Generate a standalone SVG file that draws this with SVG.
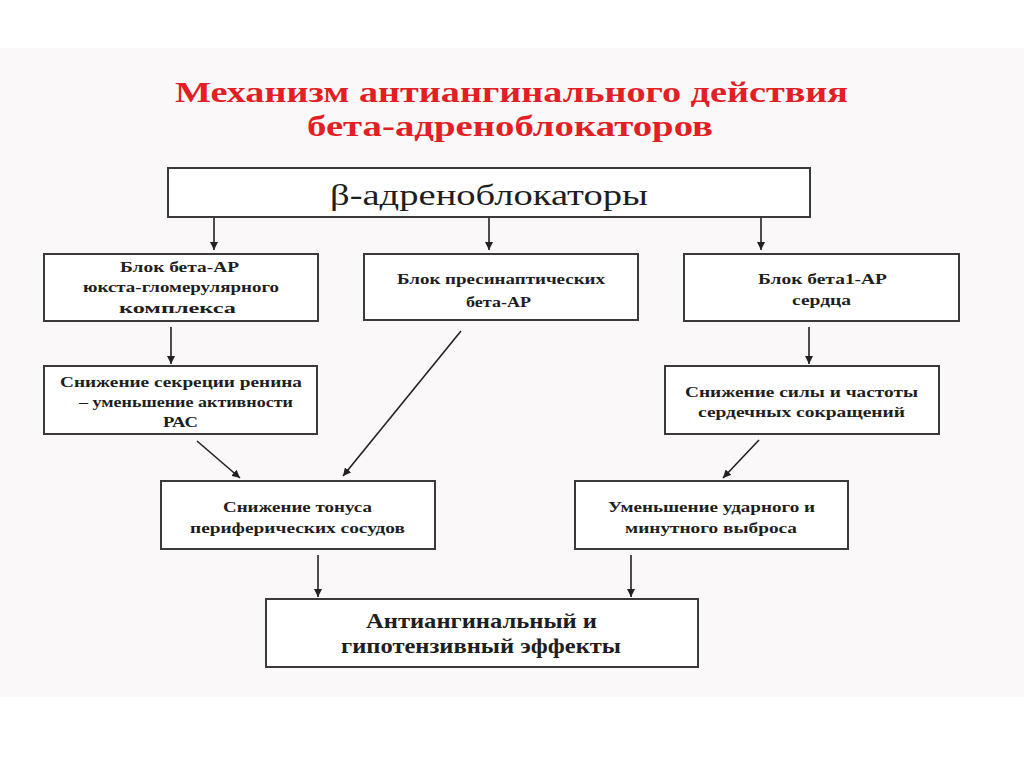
<svg xmlns="http://www.w3.org/2000/svg" width="1024" height="767" viewBox="0 0 1024 767">
  <style>
    .box { fill: #ffffff; stroke: #3a3a3a; stroke-width: 2; }
    .t { font-family: "Liberation Serif", "Times New Roman", serif; font-weight: bold; font-size: 14px; fill: #1e1e1e; text-anchor: middle; }
    .big { font-size: 21px; }
    .title { font-family: "Liberation Serif", "Times New Roman", serif; font-weight: bold; font-size: 29px; fill: #e31e24; text-anchor: middle; }
    .main { font-family: "Liberation Serif", "Times New Roman", serif; font-weight: normal; font-size: 30px; fill: #1e1e1e; text-anchor: middle; }
    .conn line { stroke: #222; stroke-width: 1.6; marker-end: url(#arr); }
  </style>
  <defs>
    <marker id="arr" markerUnits="userSpaceOnUse" markerWidth="9" markerHeight="8" refX="8" refY="4" orient="auto">
      <path d="M0,0 L8,4 L0,8 z" fill="#222"/>
    </marker>
  </defs>
  <rect x="0" y="0" width="1024" height="767" fill="#ffffff"/>
  <rect x="0" y="48" width="1024" height="649" fill="#fbf8fa"/>

  <g id="title">
    <text class="title" x="511.5" y="102" textLength="673" lengthAdjust="spacingAndGlyphs">Механизм антиангинального действия</text>
    <text class="title" x="510" y="136" textLength="406" lengthAdjust="spacingAndGlyphs">бета-адреноблокаторов</text>
  </g>

  <g id="node-top">
    <rect class="box" x="168" y="168" width="642" height="49"/>
    <text class="main" x="489" y="205" textLength="318" lengthAdjust="spacingAndGlyphs">β-адреноблокаторы</text>
  </g>

  <g id="node-a">
    <rect class="box" x="44" y="254" width="274" height="67"/>
    <text class="t" x="179.5" y="272" textLength="119" lengthAdjust="spacingAndGlyphs">Блок бета-АР</text>
    <text class="t" x="181" y="292" textLength="196" lengthAdjust="spacingAndGlyphs">юкста-гломерулярного</text>
    <text class="t" x="177.5" y="313" textLength="117" lengthAdjust="spacingAndGlyphs">комплекса</text>
  </g>

  <g id="node-b">
    <rect class="box" x="364" y="254" width="274" height="66"/>
    <text class="t" x="501" y="284" textLength="208" lengthAdjust="spacingAndGlyphs">Блок пресинаптических</text>
    <text class="t" x="498.5" y="307" textLength="65" lengthAdjust="spacingAndGlyphs">бета-АР</text>
  </g>

  <g id="node-c">
    <rect class="box" x="684" y="254" width="275" height="67"/>
    <text class="t" x="822.5" y="284" textLength="129" lengthAdjust="spacingAndGlyphs">Блок бета1-АР</text>
    <text class="t" x="821.5" y="305" textLength="59" lengthAdjust="spacingAndGlyphs">сердца</text>
  </g>

  <g id="node-d">
    <rect class="box" x="44" y="366" width="273" height="68"/>
    <text class="t" x="181" y="387" textLength="242" lengthAdjust="spacingAndGlyphs">Снижение секреции ренина</text>
    <text class="t" x="186" y="407" textLength="214" lengthAdjust="spacingAndGlyphs">– уменьшение активности</text>
    <text class="t" x="180.5" y="427" textLength="35" lengthAdjust="spacingAndGlyphs">РАС</text>
  </g>

  <g id="node-e">
    <rect class="box" x="665" y="366" width="274" height="68"/>
    <text class="t" x="801.5" y="397" textLength="233" lengthAdjust="spacingAndGlyphs">Снижение силы и частоты</text>
    <text class="t" x="801.5" y="417" textLength="207" lengthAdjust="spacingAndGlyphs">сердечных сокращений</text>
  </g>

  <g id="node-f">
    <rect class="box" x="161" y="481" width="274" height="68"/>
    <text class="t" x="297.5" y="512" textLength="149" lengthAdjust="spacingAndGlyphs">Снижение тонуса</text>
    <text class="t" x="297.5" y="533" textLength="215" lengthAdjust="spacingAndGlyphs">периферических сосудов</text>
  </g>

  <g id="node-g">
    <rect class="box" x="575" y="481" width="273" height="68"/>
    <text class="t" x="711.5" y="512" textLength="207" lengthAdjust="spacingAndGlyphs">Уменьшение ударного и</text>
    <text class="t" x="711" y="533" textLength="172" lengthAdjust="spacingAndGlyphs">минутного  выброса</text>
  </g>

  <g id="node-h">
    <rect class="box" x="266" y="599" width="432" height="68"/>
    <text class="t big" x="481.5" y="628" textLength="231" lengthAdjust="spacingAndGlyphs">Антиангинальный  и</text>
    <text class="t big" x="481" y="653" textLength="280" lengthAdjust="spacingAndGlyphs">гипотензивный эффекты</text>
  </g>

  <g id="connectors" class="conn">
    <line x1="214" y1="218" x2="214" y2="250"/>
    <line x1="489" y1="218" x2="489" y2="250"/>
    <line x1="761" y1="218" x2="761" y2="250"/>
    <line x1="171" y1="327" x2="171" y2="364"/>
    <line x1="809" y1="327" x2="809" y2="364"/>
    <line x1="461" y1="331" x2="343" y2="476"/>
    <line x1="197" y1="441" x2="240" y2="478"/>
    <line x1="759" y1="440" x2="723" y2="478"/>
    <line x1="318" y1="555" x2="318" y2="597"/>
    <line x1="631" y1="555" x2="631" y2="597"/>
  </g>
</svg>
